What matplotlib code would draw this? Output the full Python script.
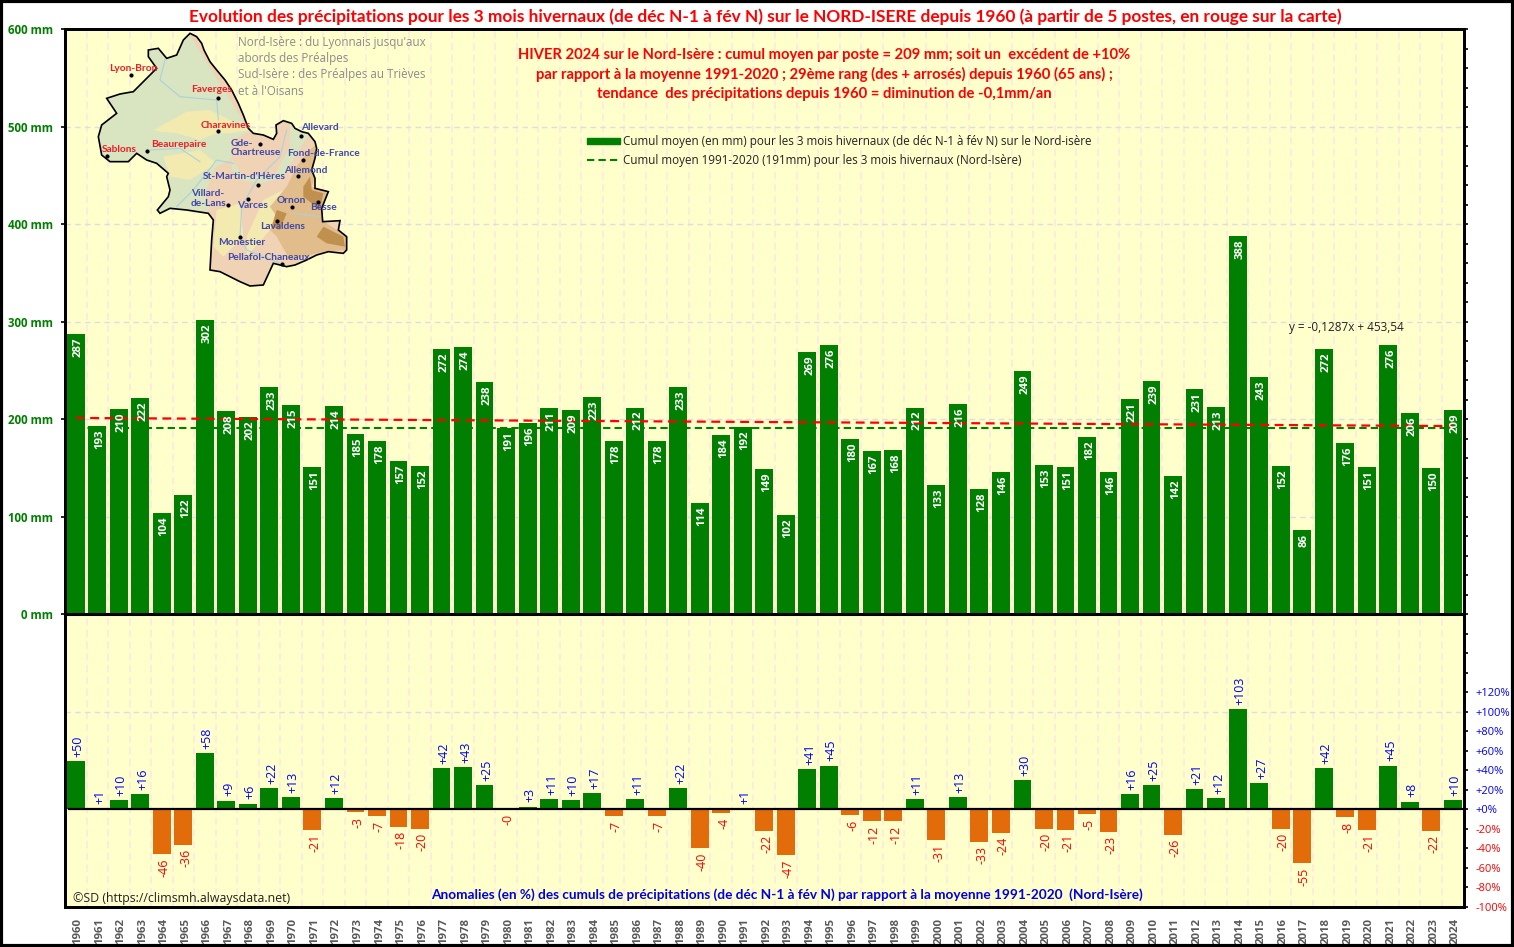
import numpy as np
import matplotlib
matplotlib.use("Agg")
import matplotlib.pyplot as plt
from matplotlib.patches import Polygon, Rectangle, Patch
from matplotlib.lines import Line2D

# donnees
annees = list(range(1960, 2025))
cumuls = [287, 193, 210, 222, 104, 122, 302, 208, 202, 233, 215, 151, 214, 185, 178, 157, 152,
          272, 274, 238, 191, 196, 211, 209, 223, 178, 212, 178, 233, 114, 184, 192, 149, 102,
          269, 276, 180, 167, 168, 212, 133, 216, 128, 146, 249, 153, 151, 182, 146, 221, 239,
          142, 231, 213, 388, 243, 152, 86, 272, 176, 151, 276, 206, 150, 209]
anomalies = [50, 1, 10, 16, -46, -36, 58, 9, 6, 22, 13, -21, 12, -3, -7, -18, -20,
             42, 43, 25, -0.2, 3, 11, 10, 17, -7, 11, -7, 22, -40, -4, 1, -22, -47,
             41, 45, -6, -12, -12, 11, -31, 13, -33, -24, 30, -20, -21, -5, -23, 16, 25,
             -26, 21, 12, 103, 27, -20, -55, 42, -8, -21, 45, 8, -22, 10]
normale_x = [1960, 2024]
normale_y = [191, 191]
tendance_x = [1960, 2024]
tendance_y = [201.3, 193.0]
ticks_mm = [0, 100, 200, 300, 400, 500, 600]
ticks_pct = [-100, -80, -60, -40, -20, 0, 20, 40, 60, 80, 100, 120]

# stations de la carte (texte, x, y)
noms_nord = [("Lyon-Bron", 109, 68), ("Faverges", 191, 89), ("Charavines", 201, 125),
             ("Beaurepaire", 151, 144), ("Sablons", 102, 149)]
noms_sud = [("Allevard", 301, 127), ("Gde-", 231, 143), ("Chartreuse", 231, 152),
            ("Fond-de-France", 287, 153), ("Allemond", 284, 170), ("St-Martin-d'Hères", 203, 176),
            ("Villard-", 191, 193), ("de-Lans", 191, 203), ("Varces", 237, 205), ("Ornon", 277, 200),
            ("Besse", 310, 207), ("Lavaldens", 260, 226), ("Monestier", 218, 242),
            ("Pellafol-Chaneaux", 227, 257)]
points = [(131, 75), (218, 98), (218, 131), (147, 151), (107, 156), (301, 136), (260, 144),
          (303, 160), (298, 176), (258, 185), (228, 205), (248, 199), (292, 207), (318, 202),
          (277, 221), (240, 237), (282, 264)]

contour = [(570, 100), (590, 110), (605, 130), (612, 150), (630, 185), (650, 210), (675, 240),
           (695, 270), (715, 310), (730, 345), (745, 385), (760, 400), (790, 405), (820, 418),
           (830, 400), (828, 375), (850, 362), (875, 370), (885, 385), (905, 395), (925, 400),
           (945, 425), (950, 445), (945, 475), (935, 510), (945, 535), (945, 565), (985, 575),
           (975, 600), (965, 625), (968, 665), (1020, 662), (1015, 690), (1040, 710), (1040, 750),
           (1030, 760), (985, 755), (950, 765), (920, 780), (885, 795), (860, 800), (820, 790),
           (790, 855), (750, 858), (720, 845), (680, 825), (660, 815), (630, 810), (635, 720),
           (640, 660), (625, 640), (560, 630), (510, 625), (480, 640), (472, 630), (505, 590),
           (510, 570), (500, 530), (505, 520), (470, 490), (440, 480), (410, 460), (385, 485),
           (330, 485), (305, 465), (295, 410), (305, 375), (350, 340), (320, 295), (360, 282),
           (400, 275), (430, 245), (470, 205), (445, 170), (445, 150), (475, 145), (500, 175),
           (530, 165), (550, 120)]
zones_vertes = [[(560, 90), (750, 395), (695, 420), (695, 475), (645, 505), (615, 580), (630, 630),
                 (460, 660), (280, 500), (280, 280), (430, 130)],
                [(695, 475), (730, 530), (820, 530), (870, 440), (870, 370), (930, 400), (890, 460),
                 (850, 530), (790, 550), (720, 540), (695, 510)]]
zones_beiges = [[(460, 390), (560, 335), (630, 330), (750, 390), (690, 400), (650, 400), (600, 420),
                 (530, 400), (480, 395)],
                [(490, 470), (600, 450), (650, 490), (570, 540), (510, 530)],
                [(650, 630), (720, 610), (730, 710), (670, 770), (640, 740)],
                [(790, 600), (850, 570), (810, 690), (740, 770), (740, 710)]]
zone_ocre = [(890, 500), (920, 460), (950, 430), (960, 490), (935, 560), (985, 580), (965, 660),
             (1040, 710), (1040, 750), (970, 755), (910, 770), (870, 780), (830, 710), (810, 690),
             (830, 650), (810, 620), (860, 560)]
zones_brunes = [[(910, 560), (930, 530), (935, 570), (970, 580), (960, 630), (935, 610), (910, 590)],
                [(970, 680), (1030, 710), (1035, 740), (980, 730), (950, 710)],
                [(830, 630), (860, 640), (840, 690), (815, 680)]]
rivieres = [[(495, 180), (480, 240), (540, 290), (650, 300), (655, 360)],
            [(860, 390), (840, 470), (770, 540), (725, 620), (720, 710)],
            [(450, 450), (540, 445), (600, 485)],
            [(530, 620), (580, 570), (650, 480), (700, 490)],
            [(720, 710), (740, 750), (840, 790)],
            [(880, 640), (960, 650)]]

VERT = "#007f00"
ORANGE = "#e36c0a"
FOND = "#ffffcc"
W, H = 1514, 947

plt.rcParams["font.family"] = ["Open Sans", "DejaVu Sans"]
fig = plt.figure(figsize=(W / 100, H / 100), dpi=100, facecolor="white")
ax = fig.add_axes([65 / W, 1 - 907 / H, (1463.5 - 65) / W, (907 - 29) / H], facecolor=FOND)
ax2 = ax.twinx()

# histogramme des cumuls
ax.bar(annees, cumuls, width=0.83, color=VERT, zorder=3)
for a, v in zip(annees, cumuls):
    ax.annotate(str(v), (a, v), xytext=(1.7, -2.5), textcoords="offset points", rotation=90,
                ha="center", va="top", color="white", fontsize=8.2, fontweight="bold", zorder=6)
ax.plot(normale_x, normale_y, color=VERT, ls=(0, (3.5, 2)), lw=1.5, zorder=5)
ax.plot(tendance_x, tendance_y, color="#ff0000", ls=(0, (4, 2.5)), lw=1.6, zorder=5)

ax.set_xlim(1959.5, 2024.5)
ax.set_ylim(-300, 600)
ax.set_xticks(annees)
ax.set_xticklabels([])
ax.tick_params(axis="x", length=0)
# annees sous l'axe, un peu decalees a droite du centre des barres
for a in annees:
    ax.annotate(str(a), (a, 0), xycoords=ax.get_xaxis_transform(), xytext=(1.7, -8),
                textcoords="offset points", rotation=90, ha="center", va="top",
                fontsize=8.2, fontweight="bold", color="#595959", annotation_clip=False)
ax.set_yticks(ticks_mm)
ax.set_yticklabels(["%d mm" % v for v in ticks_mm], fontsize=8.3, fontweight="bold", color=VERT)
ax.tick_params(axis="y", length=3, width=1.2, pad=5.5)

# grilles
for x in annees[:-1]:
    ax.axvline(x + 0.5, color="#fcebdf", ls=(0, (4, 2.5)), lw=1.3, zorder=1)
for y in [-100, 100, 200, 300, 400, 500]:
    ax.axhline(y, color="#dfdce2", ls=(0, (4, 3)), lw=1, zorder=2)
ax.axhline(0, color="black", lw=2.2, zorder=6)
for s in ax.spines.values():
    s.set_linewidth(2)
    s.set_zorder(8)

# anomalies en %
ax2.set_zorder(ax.get_zorder() + 1)
ax2.patch.set_visible(False)
ax2.set_ylim(-100, 800)
couleurs = [VERT if v > 0 else ORANGE for v in anomalies]
ax2.bar(annees, anomalies, width=0.83, color=couleurs, zorder=3)
ax2.axhline(0, xmin=0.003, color="black", lw=1.6, zorder=5)
for a, v in zip(annees, anomalies):
    if v >= 0:
        ax2.annotate("%+d" % v, (a, v), xytext=(1.7, 3), textcoords="offset points", rotation=90,
                     ha="center", va="bottom", color="#0000ff", fontsize=9)
    else:
        ax2.annotate("-%d" % abs(v), (a, v), xytext=(1.7, -3), textcoords="offset points", rotation=90,
                     ha="center", va="top", color="#ff0000", fontsize=9)
graduations = np.arange(-100, 801, 20)
ax2.set_yticks(graduations)
ax2.set_yticklabels([("%+d%%" % v if v in ticks_pct else "") for v in graduations], fontsize=8)
for lab, v in zip(ax2.get_yticklabels(), graduations):
    lab.set_color("#0000ff" if v >= 0 else "#ff0000")
ax2.tick_params(axis="y", length=3, width=1.2, pad=5.5)
for s in ax2.spines.values():
    s.set_linewidth(2)

# legende
poignees = [Patch(color=VERT), Line2D([0], [0], color=VERT, ls=(0, (3.5, 2)), lw=1.5)]
ax.legend(poignees, ["Cumul moyen (en mm) pour les 3 mois hivernaux (de déc N-1 à fév N) sur le Nord-isère",
                     "Cumul moyen 1991-2020 (191mm) pour les 3 mois hivernaux (Nord-Isère)"],
          loc="upper left", bbox_to_anchor=((587 - 65) / (1463.5 - 65), 1 - (135 - 29) / 878), frameon=False,
          fontsize=8.35, handlelength=2.85, handleheight=0.45, labelspacing=0.5, handletextpad=0.25,
          borderpad=0, borderaxespad=0, labelcolor="#222222")

# calque en pixels pour la carte et les textes
ov = fig.add_axes([0, 0, 1, 1], facecolor="none")
ov.set_xlim(0, W)
ov.set_ylim(H, 0)
ov.axis("off")
ov.add_patch(Rectangle((1, 1), W - 2, H - 2, fill=False, ec="black", lw=3))

def px(pts):
    return [(x / 3, y / 3) for x, y in pts]

bord = Polygon(px(contour), closed=True, fc="#f0d2b4", ec="none", zorder=2)
ov.add_patch(bord)
couches = [(z, "#d9e4c0") for z in zones_vertes] + [(z, "#f3eab0") for z in zones_beiges] + \
    [(zone_ocre, "#e2bd8c")] + [(z, "#c0904f") for z in zones_brunes]
for pts, col in couches:
    p = Polygon(px(pts), closed=True, fc=col, ec="none", zorder=3)
    ov.add_patch(p)
    p.set_clip_path(bord)
for r in rivieres:
    xy = px(r)
    ov.plot([q[0] for q in xy], [q[1] for q in xy], color="#a9d2dc", lw=0.8, zorder=4)
ov.add_patch(Polygon(px(contour), closed=True, fc="none", ec="black", lw=1.2, zorder=5))
ov.scatter([p[0] for p in points], [p[1] for p in points], s=4, color="black", zorder=6)
for nom, x, y in noms_nord:
    ov.text(x, y, nom, color="#ee1c25", fontsize=7.3, fontweight="bold", family="Lato", va="center", zorder=7)
for nom, x, y in noms_sud:
    ov.text(x, y, nom, color="#3f48a8", fontsize=7.3, fontweight="bold", family="Lato", va="center", zorder=7)

for t, y in [("Nord-Isère : du Lyonnais jusqu'aux", 42), ("abords des Préalpes", 58),
             ("Sud-Isère : des Préalpes au Trièves", 74), ("et à l'Oisans", 91)]:
    ov.text(238, y, t, color="#8c8c8c", fontsize=8.35, va="center")

ov.text(765.5, 17, "Evolution des précipitations pour les 3 mois hivernaux (de déc N-1 à fév N) sur le NORD-ISERE depuis 1960 (à partir de 5 postes, en rouge sur la carte)",
        color="#ff0000", fontsize=12.45, fontweight="bold", family="Lato", ha="center", va="center")
for t, y in [("HIVER 2024 sur le Nord-Isère : cumul moyen par poste = 209 mm; soit un  excédent de +10%", 55),
             ("par rapport à la moyenne 1991-2020 ; 29ème rang (des + arrosés) depuis 1960 (65 ans) ;", 74),
             ("tendance  des précipitations depuis 1960 = diminution de -0,1mm/an", 94)]:
    ov.text(824.5, y, t, color="#ff0000", fontsize=10.6, fontweight="bold", family="Lato", ha="center", va="center")
ov.text(1289, 327, "y = -0,1287x + 453,54", color="#222222", fontsize=8.5, va="center")
ov.text(786.5, 895, "Anomalies (en %) des cumuls de précipitations (de déc N-1 à fév N) par rapport à la moyenne 1991-2020  (Nord-Isère)",
        color="#0000e0", fontsize=9.82, fontweight="bold", family="Lato", ha="center", va="center")
ov.text(73, 898, "©SD (https://climsmh.alwaysdata.net)", color="#222222", fontsize=8.9, va="center")

fig.savefig("out.png", dpi=100)
